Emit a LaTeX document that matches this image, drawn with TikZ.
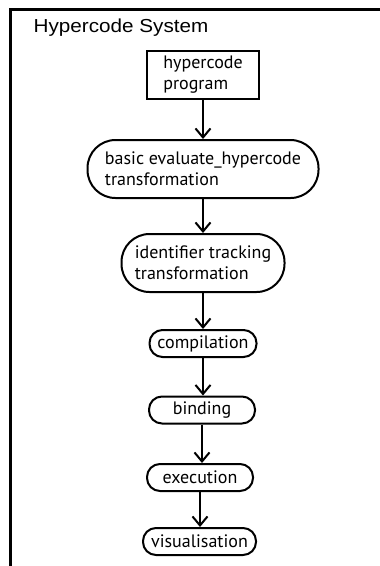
\documentclass[tikz,border=0pt]{standalone}
\usepackage{fontspec}
\setmainfont{PT Sans}
\newfontfamily\titlefont{Liberation Sans}
\usetikzlibrary{arrows.meta}
\begin{document}
\begin{tikzpicture}[x=1pt,y=-1pt,
  frame/.style={line width=2.6pt},
  base/.style={draw, line width=2pt, inner xsep=0pt, inner ysep=0pt, align=left,
    font=\fontsize{18}{21}\selectfont},
  prog/.style={base, rectangle, minimum width=112pt, minimum height=48pt},
  big/.style={base, rounded corners=28pt, minimum height=58pt},
  small/.style={base, rounded corners=13pt, minimum height=27pt},
  flow/.style={line width=2pt, -{Straight Barb[length=9pt,width=15pt,line width=2pt]}}
]
\useasboundingbox (0,0) rectangle (380,566);
\draw[frame] (10.3,567) -- (10.3,9.7) -- (381,9.7);
\node[anchor=base west, inner sep=0pt, font=\titlefont\fontsize{18.8}{22}\selectfont] (title) at (33.5,32.7) {\scalebox{1.1}[1]{Hypercode System}};

\node[prog] (hp) at (203,75) {hypercode\\program};
\node[big, minimum width=231pt] (basic) at (203,169) {basic evaluate\_hypercode\\transformation};
\node[big, minimum width=163pt] (ident) at (203,263) {identifier tracking\\transformation};
\node[small, minimum width=107pt] (comp) at (203,343.5) {compilation};
\node[small, minimum width=106pt] (bind) at (202,410) {binding};
\node[small, minimum width=106pt] (exec) at (200,477.5) {execution};
\node[small, minimum width=113pt] (vis) at (199.5,541.5) {visualisation};

\draw[flow] (hp.south) -- (hp.south |- basic.north);
\draw[flow] (basic.south) -- (basic.south |- ident.north);
\draw[flow] (ident.south) -- (ident.south |- comp.north);
\draw[flow] (comp.south) -- (comp.south |- bind.north);
\draw[flow] (bind.south) -- (bind.south |- exec.north);
\draw[flow] (exec.south) -- (exec.south |- vis.north);
\end{tikzpicture}
\end{document}
